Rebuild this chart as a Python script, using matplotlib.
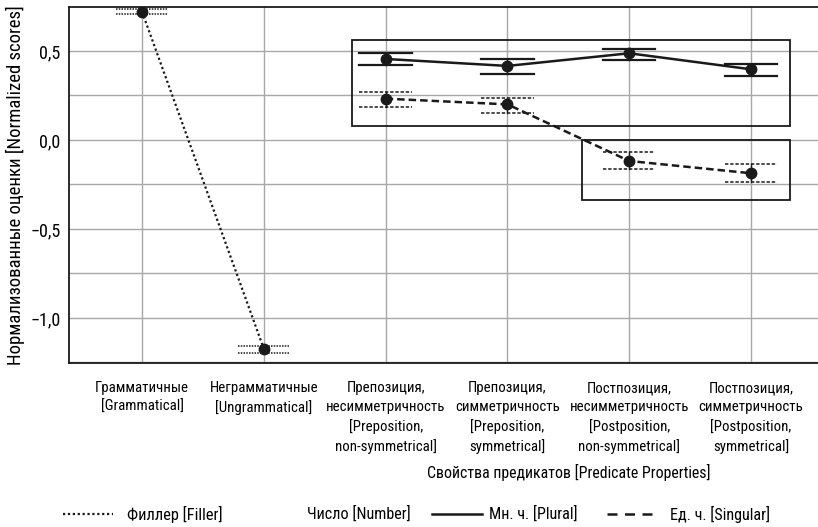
import matplotlib
matplotlib.use("Agg")
import matplotlib.pyplot as plt
import matplotlib.transforms as mtransforms
from matplotlib.patches import Rectangle
from matplotlib.lines import Line2D
from matplotlib.ticker import MultipleLocator, FuncFormatter

plt.rcParams["font.family"] = ["Roboto Condensed", "Noto Sans Condensed", "Open Sans Condensed",
                               "Roboto", "DejaVu Sans"]
plt.rcParams["font.size"] = 12

# Data
categories = [
    "Грамматичные\n[Grammatical]",
    "Неграмматичные\n[Ungrammatical]",
    "Препозиция,\nнесимметричность\n[Preposition,\nnon-symmetrical]",
    "Препозиция,\nсимметричность\n[Preposition,\nsymmetrical]",
    "Постпозиция,\nнесимметричность\n[Postposition,\nnon-symmetrical]",
    "Постпозиция,\nсимметричность\n[Postposition,\nsymmetrical]",
]
filler_x = [0, 1]
filler_mean = [0.72, -1.174]
filler_lo = [0.706, -1.199]
filler_hi = [0.734, -1.155]

pred_x = [2, 3, 4, 5]
plural_mean = [0.455, 0.416, 0.487, 0.397]
plural_lo = [0.423, 0.372, 0.448, 0.360]
plural_hi = [0.490, 0.455, 0.513, 0.427]

singular_mean = [0.232, 0.200, -0.118, -0.187]
singular_lo = [0.184, 0.152, -0.161, -0.236]
singular_hi = [0.268, 0.234, -0.069, -0.137]

# boxes around groups: (x0, x1, y0, y1)
box_pre = (1.72, 5.32, 0.08, 0.562)
box_post = (3.61, 5.32, -0.335, 0.0)

ink = "#1a1a1a"
cap_hw = 0.215

fig = plt.figure(figsize=(8.18, 5.27), dpi=100)
W, H = 818, 527
ax = fig.add_axes([69 / W, 1 - 363 / H, (W - 69) / W, (363 - 7) / H])


def draw_series(xs, mean, lo, hi, ls, cap_ls, lw, cap_lw):
    ax.plot(xs, mean, color=ink, linestyle=ls, linewidth=lw, zorder=3)
    for x, m, a, b in zip(xs, mean, lo, hi):
        ax.plot([x, x], [a, b], color=ink, linewidth=1.0, zorder=3)
        ax.plot([x - cap_hw, x + cap_hw], [a, a], color=ink, linestyle=cap_ls, linewidth=cap_lw, zorder=3)
        ax.plot([x - cap_hw, x + cap_hw], [b, b], color=ink, linestyle=cap_ls, linewidth=cap_lw, zorder=3)
    ax.plot(xs, mean, "o", color=ink, markersize=7.5, zorder=4)


draw_series(filler_x, filler_mean, filler_lo, filler_hi, (0, (1, 1.2)), (0, (1, 0.8)), 1.6, 1.1)
draw_series(pred_x, plural_mean, plural_lo, plural_hi, "-", "-", 1.8, 1.6)
draw_series(pred_x, singular_mean, singular_lo, singular_hi, (0, (3, 1.6)), (0, (2.2, 1.2)), 1.8, 1.1)

for x0, x1, y0, y1 in (box_pre, box_post):
    ax.add_patch(Rectangle((x0, y0), x1 - x0, y1 - y0, fill=False,
                           edgecolor=ink, linewidth=1.3, zorder=2))

ax.set_xlim(-0.6, 5.55)
ax.set_ylim(-1.253, 0.747)
ax.set_xticks(range(len(categories)))
ax.set_xticklabels(categories, linespacing=1.42)
ax.yaxis.set_major_locator(MultipleLocator(0.5))
ax.yaxis.set_minor_locator(MultipleLocator(0.25))
ax.yaxis.set_major_formatter(FuncFormatter(
    lambda v, p: f"{v:.1f}".replace(".", ",").replace("-", "\u2212")))
ax.tick_params(axis="both", length=0, which="both")
ax.tick_params(axis="x", pad=13, labelsize=10.7)
ax.tick_params(axis="y", pad=6, labelsize=13)
ax.grid(True, which="both", color="#a8a8a8", linewidth=1.0)
ax.set_axisbelow(True)
for side in ("left", "top", "bottom"):
    ax.spines[side].set_linewidth(1.3)
    ax.spines[side].set_color(ink)
ax.spines["right"].set_visible(False)

fig.text(15 / W, 1 - 185 / H, "Нормализованные оценки [Normalized scores]",
         rotation=90, ha="center", va="center", fontsize=13.5)

trans = mtransforms.blended_transform_factory(ax.transData, fig.transFigure)
ax.text(3.5, 1 - 472 / H, "Свойства предикатов [Predicate Properties]",
        transform=trans, ha="center", va="center", fontsize=11.4)

# legend row
ly = 1 - 514 / H
fig.add_artist(Line2D([63 / W, 113 / W], [ly, ly], color=ink, linestyle=(0, (1, 1.2)), linewidth=1.6))
fig.text(127 / W, ly, "Филлер [Filler]", ha="left", va="center", fontsize=11.8)
fig.text(307 / W, ly, "Число [Number]", ha="left", va="center", fontsize=11.6)
fig.add_artist(Line2D([432 / W, 482 / W], [ly, ly], color=ink, linestyle="-", linewidth=1.8))
fig.text(489 / W, ly, "Мн. ч. [Plural]", ha="left", va="center", fontsize=11.6)
fig.add_artist(Line2D([607 / W, 658 / W], [ly, ly], color=ink, linestyle=(0, (4, 3)), linewidth=1.8))
fig.text(670 / W, ly, "Ед. ч. [Singular]", ha="left", va="center", fontsize=11.6)

fig.savefig("out.png", dpi=100)
